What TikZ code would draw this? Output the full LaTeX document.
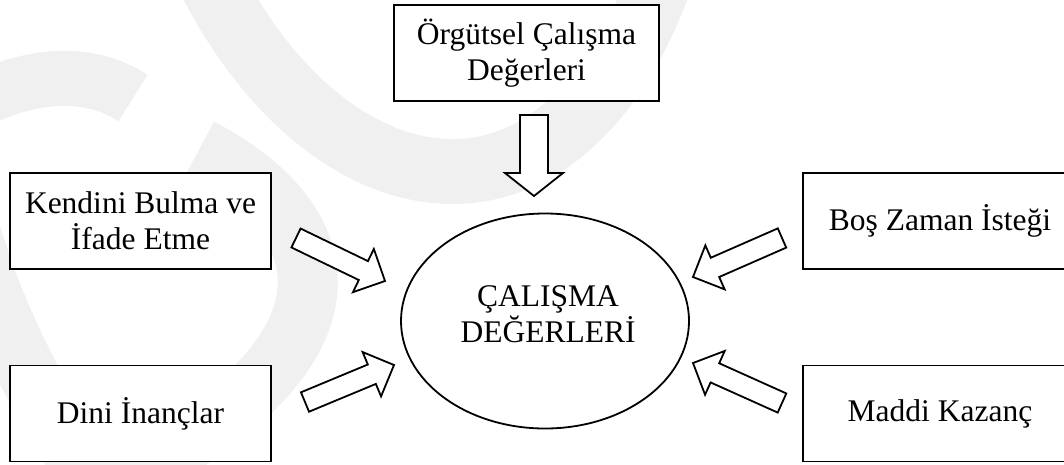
\documentclass[tikz,border=0pt]{standalone}
\usepackage{fontspec}
\setmainfont{Liberation Serif}
\usetikzlibrary{calc,shapes.geometric}
\colorlet{wmgray}{black!6}
% block arrow: #1 tail coordinate, #2 tip coordinate, #3 shaft half width, #4 head half width, #5 head length
\newcommand\blockarrow[5]{%
  \coordinate (#1-m) at ($(#2)!#5!(#1)$);
  \draw[arrowbody] ($(#1)!#3!90:(#2)$) -- ($(#1-m)!#3!90:(#2)$) -- ($(#1-m)!#4!90:(#2)$)
    -- (#2) -- ($(#1-m)!#4!-90:(#2)$) -- ($(#1-m)!#3!-90:(#2)$) -- ($(#1)!#3!-90:(#2)$) -- cycle;
}
\begin{document}
\begin{tikzpicture}[x=1pt,y=-1pt,
  txt/.style={font=\fontsize{31.5}{36}\selectfont},
  box/.style={draw, line width=1.8pt, fill=white, inner sep=0pt, align=center, txt},
  arrowbody/.style={draw, line width=1.8pt, fill=white, line join=miter},
  wm/.style={draw=wmgray, line cap=butt}]
\useasboundingbox (0,0) rectangle (1064,464);
\clip (0,0) rectangle (1064,464);
% faint watermark
\draw[wm, line width=65pt] (210,-20) .. controls (330,215) and (560,255) .. (660,-20);
\draw[wm, line width=60pt] (200,148) .. controls (355,230) and (355,360) .. (120,480);
\draw[wm, line width=55pt] (133,98) .. controls (90,70) and (30,70) .. (-40,110);
\draw[wm, line width=60pt] (-30,230) .. controls (0,330) and (40,400) .. (90,480);
% boxes
\node[box, minimum width=265pt, minimum height=96pt] (org) at (526.5,53) {Örgütsel Çalışma\\Değerleri};
\node[box, minimum width=261pt, minimum height=96pt] (ken) at (140.5,221) {Kendini Bulma ve\\İfade Etme};
\node[box, minimum width=261pt, minimum height=96pt] (din) at (140.5,413.5) {Dini İnançlar};
\node[box, minimum width=274pt, minimum height=96pt] (bos) at (940,221) {Boş Zaman İsteği};
\node[box, minimum width=274pt, minimum height=96pt] (mad) at (940,413.5) {Maddi Kazanç};
% centre
\node[draw, ellipse, line width=1.8pt, fill=white, minimum width=288pt, minimum height=215pt, inner sep=0pt] (core) at (545,321) {};
\node[txt, align=center, inner sep=0pt] (coretxt) at (548,314) {ÇALIŞMA\\DEĞERLERİ};
% arrow coordinates
\coordinate (a1) at (534,115); \coordinate (b1) at (534,196);
\coordinate (a2) at (296,238); \coordinate (b2) at (385,281);
\coordinate (a3) at (305,402); \coordinate (b3) at (394,365);
\coordinate (a4) at (782,238); \coordinate (b4) at (693,277);
\coordinate (a5) at (782,403); \coordinate (b5) at (693,363);
\blockarrow{a1}{b1}{14pt}{29pt}{23pt}
\blockarrow{a2}{b2}{10.5pt}{24pt}{24pt}
\blockarrow{a3}{b3}{10.5pt}{24pt}{24pt}
\blockarrow{a4}{b4}{10.5pt}{24pt}{24pt}
\blockarrow{a5}{b5}{10.5pt}{24pt}{24pt}
\end{tikzpicture}
\end{document}
